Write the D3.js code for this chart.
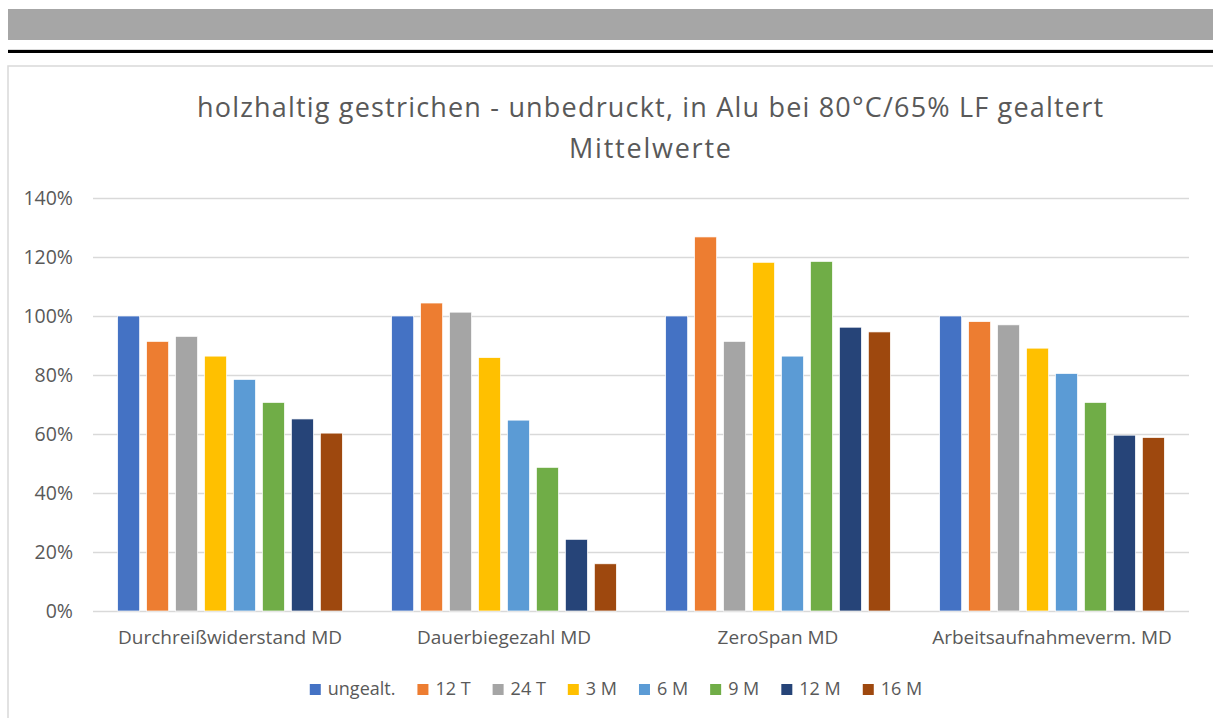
<!DOCTYPE html>
<html>
<head>
<meta charset="utf-8">
<script src="https://cdn.jsdelivr.net/npm/d3@7"></script>
<style>
  html, body { margin: 0; padding: 0; background: #fff; }
  svg { display: block; }
  text { font-family: "Open Sans", "Noto Sans", sans-serif; fill: #595959; }
</style>
</head>
<body>
<svg id="chart" width="1213" height="718"></svg>
<script>
const titleLines = ["holzhaltig gestrichen - unbedruckt, in Alu bei 80°C/65% LF gealtert", "Mittelwerte"];
const categories = ["Durchreißwiderstand MD", "Dauerbiegezahl MD", "ZeroSpan MD", "Arbeitsaufnahmeverm. MD"];
const seriesNames = ["ungealt.", "12 T", "24 T", "3 M", "6 M", "9 M", "12 M", "16 M"];
const colors = ["#4472C4", "#ED7D31", "#A5A5A5", "#FFC000", "#5B9BD5", "#70AD47", "#264478", "#9E480E"];
const s_ungealt = [100, 100, 100, 100];
const s_12T = [91.4, 104.4, 126.8, 98.1];
const s_24T = [93.1, 101.3, 91.4, 97.0];
const s_3M  = [86.4, 85.9, 118.2, 89.1];
const s_6M  = [78.5, 64.7, 86.4, 80.5];
const s_9M  = [70.7, 48.7, 118.5, 70.7];
const s_12M = [65.1, 24.3, 96.2, 59.6];
const s_16M = [60.3, 16.0, 94.6, 58.8];
const yTicks = [0, 20, 40, 60, 80, 100, 120, 140];

const seriesValues = [s_ungealt, s_12T, s_24T, s_3M, s_6M, s_9M, s_12M, s_16M];

const svg = d3.select("#chart");

// page decorations
svg.append("rect").attr("x", 8).attr("y", 9).attr("width", 1205).attr("height", 31).attr("fill", "#a6a6a6");
svg.append("rect").attr("x", 8).attr("y", 49).attr("width", 1205).attr("height", 1).attr("fill", "#d9d9d9");
svg.append("rect").attr("x", 8).attr("y", 50).attr("width", 1205).attr("height", 3).attr("fill", "#000");
// chart frame
svg.append("rect").attr("x", 8).attr("y", 66).attr("width", 1215).attr("height", 670)
  .attr("fill", "#fff").attr("stroke", "#d9d9d9").attr("stroke-width", 1.5);

const plot = { left: 93, right: 1189, top: 198, bottom: 611 };

const x0 = d3.scaleBand().domain(categories).range([plot.left, plot.right]).padding(0);
const bw = x0.bandwidth();
const x1 = d3.scaleBand().domain(seriesNames).range([bw * 0.09, bw * 0.91]).paddingInner(0.24).paddingOuter(0);
const y = d3.scaleLinear().domain([0, 140]).range([plot.bottom, plot.top]);

// gridlines
const yAxis = d3.axisLeft(y).tickValues(yTicks).tickSize(-(plot.right - plot.left)).tickFormat(d => d + "%").tickPadding(20);
const gy = svg.append("g").attr("transform", `translate(${plot.left},0)`).call(yAxis);
gy.attr("font-size", null).attr("font-family", null);
gy.select(".domain").remove();
gy.selectAll(".tick line").attr("stroke", "#d9d9d9").attr("stroke-width", 1.5);
gy.selectAll(".tick text").attr("fill", "#595959").style("font-size", "19.5px")
  .style("font-family", '"Open Sans", sans-serif');

// bars
const groups = svg.append("g").selectAll("g").data(categories).join("g")
  .attr("transform", d => `translate(${x0(d)},0)`);
groups.selectAll("rect")
  .data((c, ci) => seriesNames.map((s, si) => ({ s, si, v: seriesValues[si][ci] })))
  .join("rect")
  .attr("x", d => x1(d.s))
  .attr("width", x1.bandwidth())
  .attr("y", d => y(d.v))
  .attr("height", d => y(0) - y(d.v))
  .attr("fill", d => colors[d.si])
  .attr("stroke", "#fff").attr("stroke-width", 0.7);

// x axis
const xAxis = d3.axisBottom(x0).tickSize(0).tickPadding(20);
const gx = svg.append("g").attr("transform", `translate(0,${plot.bottom})`).call(xAxis);
gx.attr("font-size", null).attr("font-family", null);
gx.select(".domain").remove();
gx.selectAll(".tick text").attr("fill", "#595959").style("font-size", "19px")
  .style("font-family", '"Open Sans", sans-serif');

// title
const t = svg.append("text").attr("text-anchor", "middle").style("font-size", "27px").attr("fill", "#595959");
const titleWidths = [906, 162];
titleLines.forEach((line, i) => {
  t.append("tspan").attr("x", 650).attr("y", 117 + i * 41)
    .attr("textLength", titleWidths[i]).attr("lengthAdjust", "spacing").text(line);
});

// legend
const legend = svg.append("g");
const items = legend.selectAll("g").data(seriesNames).join("g");
items.append("rect").attr("width", 11).attr("height", 11).attr("y", -11)
  .attr("fill", (d, i) => colors[i]);
items.append("text").attr("x", 18).attr("y", 0).style("font-size", "18px").text(d => d);
let xpos = 0;
const offs = [];
const gap = 22;
items.each(function(d, i) {
  const w = d3.select(this).select("text").node().getComputedTextLength();
  offs.push(xpos);
  xpos += 18 + w + gap;
});
const totalW = xpos - gap;
const lx0 = 616 - totalW / 2;
items.attr("transform", (d, i) => `translate(${lx0 + offs[i]},695)`);
</script>
</body>
</html>
